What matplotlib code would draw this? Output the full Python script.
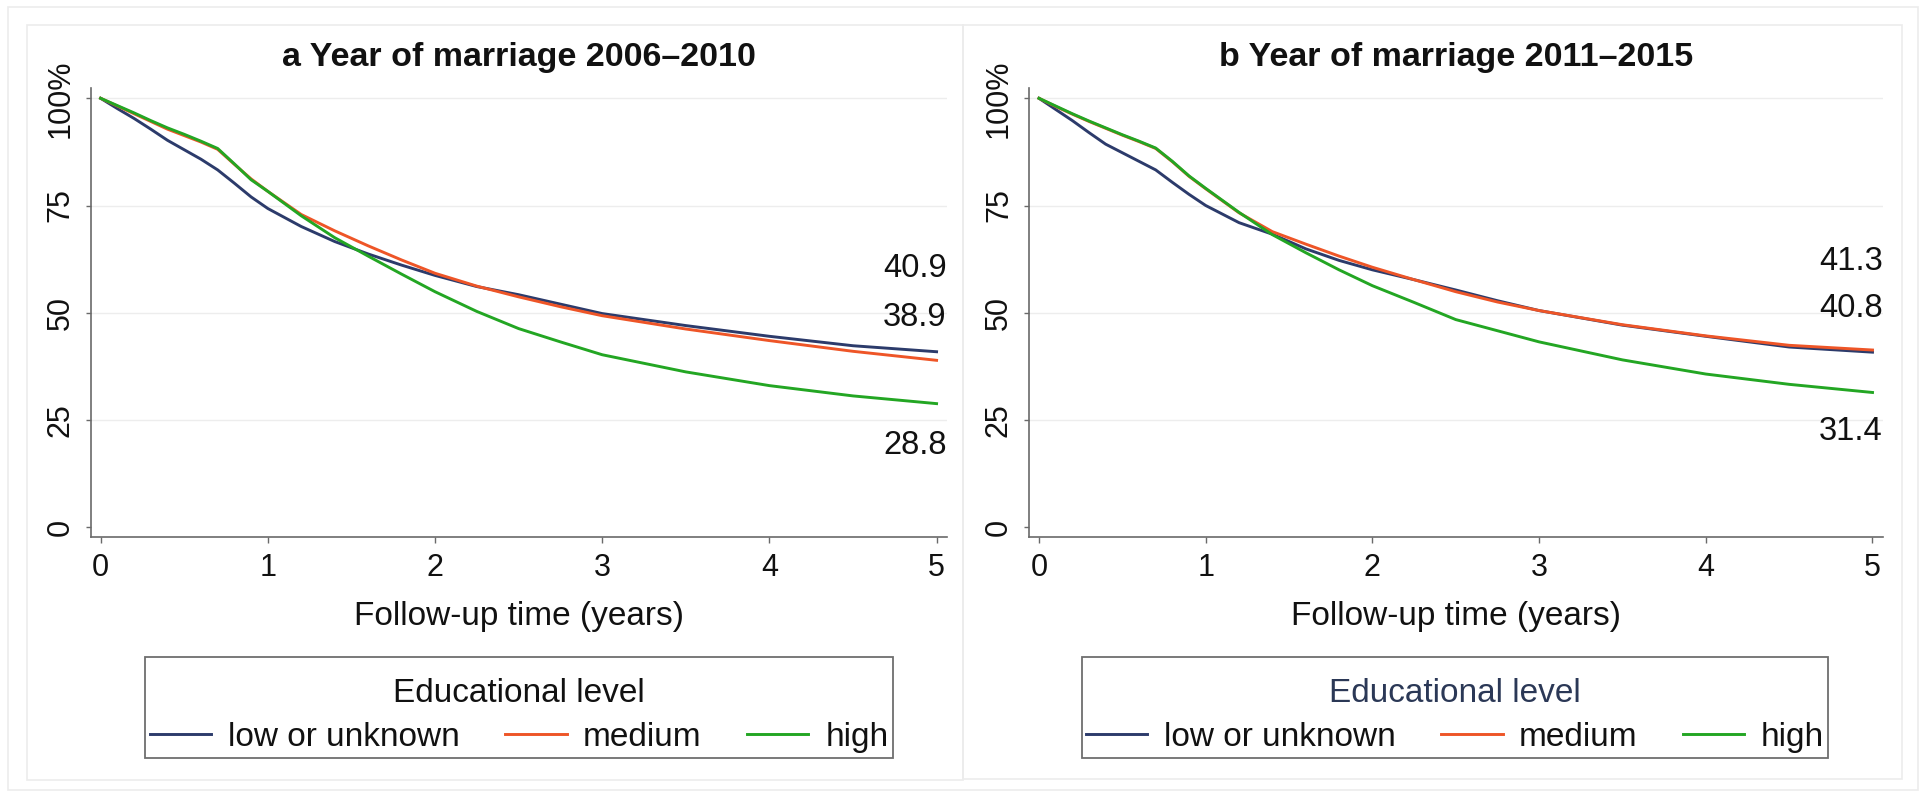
import matplotlib
matplotlib.use("Agg")
import matplotlib.pyplot as plt
from matplotlib.patches import Rectangle

plt.rcParams['font.family'] = ['Liberation Sans', 'DejaVu Sans']

W, H = 1923, 794

groups = ["low or unknown", "medium", "high"]
colors = ["#2c3b6b", "#ee5527", "#23a623"]

years = [0, 0.1, 0.2, 0.3, 0.4, 0.5, 0.6, 0.7, 0.8, 0.9, 1.0, 1.2, 1.4, 1.6,
         1.8, 2.0, 2.25, 2.5, 2.75, 3.0, 3.5, 4.0, 4.5, 5.0]

# marriages 2006-2010, % still without the event
a_low = [100, 97.6, 95.3, 92.8, 90.2, 88.0, 85.8, 83.3, 80.2, 77.0, 74.3, 70.1,
         66.6, 63.7, 61.1, 58.7, 56.1, 54.2, 52.0, 49.8, 47.0, 44.5, 42.3, 40.9]
a_medium = [100, 98.2, 96.4, 94.6, 92.8, 91.3, 89.8, 88.1, 84.6, 81.2, 78.3, 72.9,
            69.1, 65.6, 62.3, 59.2, 56.2, 53.7, 51.4, 49.3, 46.2, 43.5, 41.0, 38.9]
a_high = [100, 98.3, 96.6, 94.8, 93.1, 91.6, 90.0, 88.3, 84.7, 81.0, 78.3, 72.6,
          67.5, 63.2, 59.0, 54.9, 50.3, 46.3, 43.2, 40.2, 36.2, 33.0, 30.6, 28.8]

# marriages 2011-2015
b_low = [100, 97.4, 94.8, 92.0, 89.3, 87.3, 85.3, 83.3, 80.4, 77.6, 75.0, 71.0,
         68.3, 64.9, 62.2, 60.0, 57.7, 55.3, 52.8, 50.5, 47.1, 44.5, 42.0, 40.8]
b_medium = [100, 98.1, 96.3, 94.6, 93.0, 91.4, 89.9, 88.3, 85.2, 81.8, 78.9, 73.3,
            68.9, 66.0, 63.2, 60.6, 57.7, 54.9, 52.5, 50.5, 47.2, 44.6, 42.4, 41.3]
b_high = [100, 98.2, 96.4, 94.7, 93.1, 91.5, 90.0, 88.4, 85.3, 81.9, 79.0, 73.4,
          68.2, 64.0, 60.0, 56.3, 52.4, 48.4, 45.8, 43.2, 39.0, 35.7, 33.3, 31.4]

titles = ["a Year of marriage 2006\u20132010", "b Year of marriage 2011\u20132015"]
series = [[a_low, a_medium, a_high], [b_low, b_medium, b_high]]
# where the end-value labels sit (y, in %)
label_y = [[60.4, 49.0, 19.1], [50.9, 61.9, 22.2]]
legend_title_colors = ["#111111", "#2b3856"]

yticks = [0, 25, 50, 75, 100]
ytick_labels = ["0", "25", "50", "75", "100%"]
grid_levels = [25, 50, 75, 100]


def fx(x):
    return x / W


def fy(y):
    return 1 - y / H


fig = plt.figure(figsize=(W / 100, H / 100), dpi=100)

# light frames around the figure and each panel
frame_kw = dict(transform=fig.transFigure, fill=False, ec="#ececec", lw=1.2)
fig.add_artist(Rectangle((fx(8), fy(790)), fx(1910), 783 / H, **frame_kw))
fig.add_artist(Rectangle((fx(27), fy(780)), fx(936), 755 / H, **frame_kw))
fig.add_artist(Rectangle((fx(963), fy(779)), fx(939), 754 / H, **frame_kw))

axes_px = [(90.6, 856), (1029, 853.5)]
legend_box_px = [(145, 893), (1082, 1828)]
for i, (left, width) in enumerate(axes_px):
    ax = fig.add_axes([fx(left), fy(537), fx(width), 449 / H])
    ax.set_xlim(-0.06, 5.06)
    ax.set_ylim(-2.3, 102.4)

    for lvl in grid_levels:
        ax.axhline(lvl, color="#ededed", lw=1.0, zorder=0)

    handles = []
    for vals, c in zip(series[i], colors):
        ln, = ax.plot(years, vals, color=c, lw=2.1, solid_joinstyle="round")
        handles.append(ln)

    for vals, ly in zip(series[i], label_y[i]):
        ax.text(5.06, ly, f"{vals[-1]:.1f}", ha="right", va="center",
                fontsize=23.5, color="#111111")

    for side in ("top", "right"):
        ax.spines[side].set_visible(False)
    for side in ("left", "bottom"):
        ax.spines[side].set_color("#6a6a6a")
        ax.spines[side].set_linewidth(1.2)

    ax.set_xticks(range(6))
    ax.set_yticks(yticks)
    ax.set_yticklabels(ytick_labels)
    ax.tick_params(axis="both", colors="#6a6a6a", labelcolor="#111111",
                   labelsize=22, width=1.0)
    ax.tick_params(axis="x", length=4.5, pad=7)
    ax.tick_params(axis="y", length=3.8, pad=7)
    for lbl in ax.get_yticklabels():
        lbl.set_rotation(90)
        lbl.set_va("center")

    ax.text(0.5, 1.067, titles[i], transform=ax.transAxes, ha="center",
            va="center", fontsize=24.5, fontweight="bold", color="#111111")

    ax.set_xlabel("Follow-up time (years)", fontsize=24, color="#111111")
    ax.xaxis.set_label_coords(0.5, -0.178)
    ax.xaxis.label.set_va("center")

    # legend frame drawn separately so the padding can be uneven
    x0, x1 = legend_box_px[i]
    fig.add_artist(Rectangle((fx(x0), fy(758)), fx(x1 - x0), 101 / H,
                             transform=fig.transFigure, fill=False,
                             ec="#6e6e6e", lw=1.3))
    leg = fig.legend(handles, groups, title="Educational level", ncol=3,
                     loc="upper center",
                     bbox_to_anchor=(fx((x0 + x1) / 2), fy(678)),
                     fontsize=24, title_fontsize=24, frameon=False,
                     handlelength=1.85, handletextpad=0.5,
                     columnspacing=1.35, borderpad=0, borderaxespad=0,
                     labelspacing=0.38)
    leg.get_title().set_color(legend_title_colors[i])
    for t in leg.get_texts():
        t.set_color("#111111")

fig.savefig("out.png", dpi=100)
